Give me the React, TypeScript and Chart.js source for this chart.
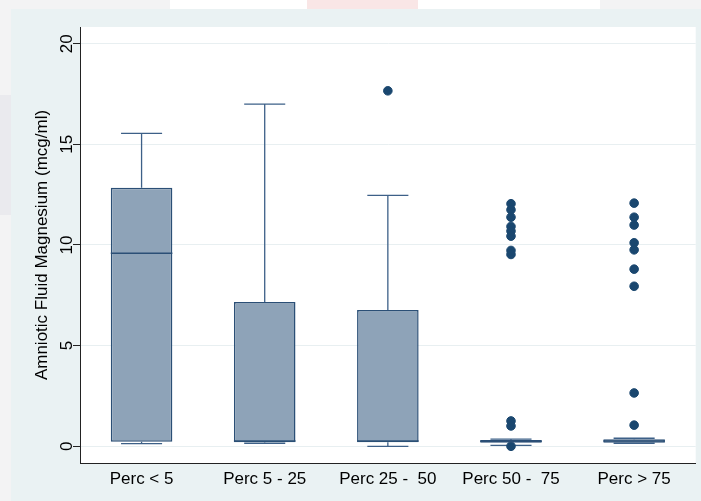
import React, { useEffect, useRef } from 'react';
import { Chart, registerables } from 'chart.js';

Chart.register(...registerables);

// ---- data ----
const categories = ['Perc < 5', 'Perc 5 - 25', 'Perc 25 -  50', 'Perc 50 -  75', 'Perc > 75'];
const whiskerLow = [0.13, 0.15, 0.0, 0.05, 0.15];
const quartile1 = [0.23, 0.2, 0.2, 0.18, 0.18];
const medians = [9.59, 0.26, 0.26, 0.25, 0.26];
const quartile3 = [12.85, 7.17, 6.77, 0.31, 0.35];
const whiskerHigh = [15.55, 17.0, 12.47, 0.36, 0.4];
const outliersPerc25to50 = [17.66];
const outliersPerc50to75 = [12.05, 11.75, 11.38, 10.92, 10.69, 10.44, 9.73, 9.53, 1.26, 1.01, 0.0];
const outliersPercOver75 = [12.08, 11.38, 10.99, 10.11, 9.76, 8.8, 7.95, 2.65, 1.05];
const yTicks = [0, 5, 10, 15, 20];
const yTitle = 'Amniotic Fluid Magnesium (mcg/ml)';

const FONT = '"Liberation Sans", Arial, Helvetica, sans-serif';
const BOX_FILL = '#8ea3b8';
const BOX_LINE = '#2b4f76';
const WHISKER = '#3d6088';
const DOT = '#1a476f';
const BAR_FRAC = 0.5;
const CAP_FRAC = 0.667;

const outlierPoints = [
  ...outliersPerc25to50.map((y) => ({ x: categories[2], y })),
  ...outliersPerc50to75.map((y) => ({ x: categories[3], y })),
  ...outliersPercOver75.map((y) => ({ x: categories[4], y })),
];

const boxPlugin = {
  id: 'boxExtras',
  beforeDraw(chart: any) {
    const { ctx, chartArea: a, width, height } = chart;
    ctx.save();
    ctx.fillStyle = '#f3f3f4';
    ctx.fillRect(0, 0, width, height);
    ctx.fillStyle = '#ffffff';
    ctx.fillRect(170, 0, 430, 9);
    ctx.fillStyle = '#f9e6e6';
    ctx.fillRect(307, 0, 111, 9);
    ctx.fillStyle = '#eaeaee';
    ctx.fillRect(0, 95, 11, 120);
    ctx.fillStyle = '#eaf2f3';
    ctx.fillRect(11, 9, width - 11, height - 9);
    ctx.fillStyle = '#ffffff';
    ctx.fillRect(a.left, a.top, a.right - a.left, a.bottom - a.top);
    ctx.restore();
  },
  beforeDatasetsDraw(chart: any) {
    const { ctx } = chart;
    const xs = chart.scales.x;
    const ys = chart.scales.y;
    const step = xs.getPixelForValue(1) - xs.getPixelForValue(0);
    const half = (step * BAR_FRAC * CAP_FRAC) / 2;
    ctx.save();
    ctx.strokeStyle = WHISKER;
    ctx.lineWidth = 1.3;
    categories.forEach((c, i) => {
      const x = xs.getPixelForValue(i);
      const yHi = ys.getPixelForValue(whiskerHigh[i]);
      const yLo = ys.getPixelForValue(whiskerLow[i]);
      const yQ3 = ys.getPixelForValue(quartile3[i]);
      const yQ1 = ys.getPixelForValue(quartile1[i]);
      ctx.beginPath();
      ctx.moveTo(x, yQ3);
      ctx.lineTo(x, yHi);
      ctx.moveTo(x - half, yHi);
      ctx.lineTo(x + half, yHi);
      ctx.moveTo(x, yQ1);
      ctx.lineTo(x, yLo);
      ctx.moveTo(x - half, yLo);
      ctx.lineTo(x + half, yLo);
      ctx.stroke();
    });
    ctx.restore();
  },
  afterDatasetsDraw(chart: any) {
    const { ctx } = chart;
    const xs = chart.scales.x;
    const ys = chart.scales.y;
    const step = xs.getPixelForValue(1) - xs.getPixelForValue(0);
    const half = (step * BAR_FRAC) / 2;
    ctx.save();
    ctx.strokeStyle = BOX_LINE;
    ctx.lineWidth = 1.5;
    categories.forEach((c, i) => {
      const x = xs.getPixelForValue(i);
      const y = ys.getPixelForValue(medians[i]);
      ctx.beginPath();
      ctx.moveTo(x - half, y);
      ctx.lineTo(x + half, y);
      ctx.stroke();
    });
    ctx.restore();
  },
  afterDraw(chart: any) {
    const { ctx, chartArea: a } = chart;
    const ys = chart.scales.y;
    ctx.save();
    ctx.fillStyle = '#000';
    ctx.font = `17px ${FONT}`;
    ctx.textAlign = 'center';
    ctx.textBaseline = 'alphabetic';
    yTicks.forEach((v) => {
      const y = ys.getPixelForValue(v);
      ctx.save();
      ctx.translate(72, y);
      ctx.rotate(-Math.PI / 2);
      ctx.fillText(String(v), 0, 0);
      ctx.restore();
    });
    ctx.save();
    ctx.translate(47, (a.top + a.bottom) / 2);
    ctx.rotate(-Math.PI / 2);
    ctx.fillText(yTitle, 0, 0);
    ctx.restore();
    ctx.restore();
  },
};

export default function App() {
  const ref = useRef<HTMLCanvasElement | null>(null);

  useEffect(() => {
    document.body.style.margin = '0';
    const canvas = ref.current;
    if (!canvas) return;
    const chart = new Chart(canvas, {
      type: 'bar',
      data: {
        labels: categories,
        datasets: [
          {
            type: 'bar',
            label: 'box',
            data: categories.map((_, i) => [quartile1[i], quartile3[i]]) as any,
            backgroundColor: BOX_FILL,
            borderColor: BOX_LINE,
            borderWidth: 1.5,
            borderSkipped: false,
            barPercentage: BAR_FRAC,
            categoryPercentage: 1,
          } as any,
          {
            type: 'scatter',
            label: 'outliers',
            data: outlierPoints as any,
            backgroundColor: DOT,
            borderColor: DOT,
            borderWidth: 1,
            pointRadius: 4.3,
          } as any,
        ],
      },
      options: {
        responsive: false,
        animation: false,
        devicePixelRatio: 1,
        layout: { padding: { left: 73, right: 5, top: 27, bottom: 13.6 } },
        plugins: { legend: { display: false }, tooltip: { enabled: false } },
        scales: {
          x: {
            type: 'category',
            offset: true,
            grid: { display: false },
            border: { display: true, color: '#222', width: 1 },
            ticks: { color: '#000', font: { size: 17, family: FONT }, padding: -2, maxRotation: 0, autoSkip: false },
          },
          y: {
            type: 'linear',
            min: -0.83,
            max: 20.83,
            afterBuildTicks: (axis: any) => {
              axis.ticks = yTicks.map((v) => ({ value: v }));
            },
            grid: { color: '#e8eff1', lineWidth: 1, tickColor: '#222', tickLength: 7, drawTicks: true },
            border: { display: true, color: '#222', width: 1 },
            ticks: { display: false },
          },
        },
      } as any,
      plugins: [boxPlugin],
    });
    return () => chart.destroy();
  }, []);

  return (
    <div style={{ width: 701, height: 501 }}>
      <canvas ref={ref} width={701} height={501} style={{ display: 'block' }} />
    </div>
  );
}
